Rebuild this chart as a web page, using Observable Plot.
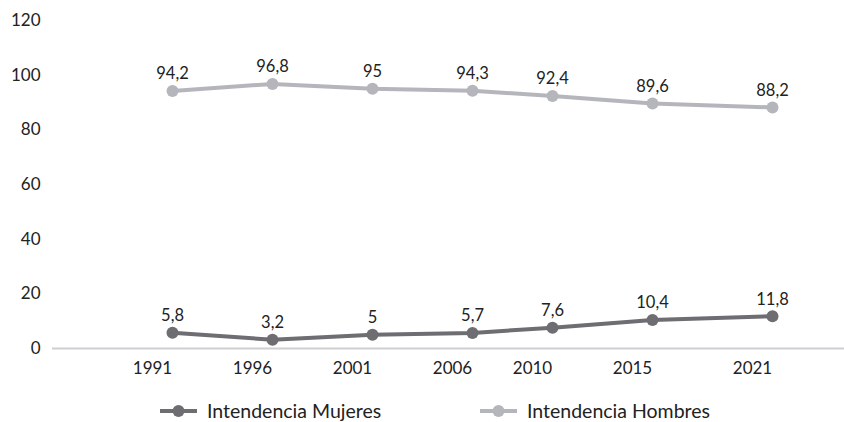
<!DOCTYPE html>
<html>
<head>
<meta charset="utf-8">
<script src="https://cdn.jsdelivr.net/npm/d3@7"></script>
<script src="https://cdn.jsdelivr.net/npm/@observablehq/plot@0.6"></script>
<style>
  html, body { margin: 0; padding: 0; background: #fff; }
  body { width: 844px; height: 422px; overflow: hidden; font-family: Lato, "Open Sans", sans-serif; }
  #legend { height: 32px; font-size: 19.5px; color: #222; position: relative; }
  .item { position: absolute; display: flex; align-items: center; top: 9px; }
  .item svg { margin-right: 10px; }
</style>
</head>
<body>
<div id="chart"></div>
<div id="legend"></div>
<script>
const years = [1991, 1996, 2001, 2006, 2010, 2015, 2021];
const mujeres = [5.8, 3.2, 5, 5.7, 7.6, 10.4, 11.8];
const hombres = [94.2, 96.8, 95, 94.3, 92.4, 89.6, 88.2];
const seriesNames = ["Intendencia Mujeres", "Intendencia Hombres"];
const seriesColors = ["#6d6d72", "#b5b5bc"];
const yTicks = [0, 20, 40, 60, 80, 100, 120];

const data = [];
years.forEach((y, i) => {
  data.push({year: y, value: mujeres[i], serie: seriesNames[0]});
  data.push({year: y, value: hombres[i], serie: seriesNames[1]});
});
const fmt = v => String(v).replace(".", ",");

const chart = Plot.plot({
  width: 844,
  height: 390,
  marginTop: 20,
  marginLeft: 52,
  marginRight: 0,
  marginBottom: 42,
  style: {fontFamily: "Lato, 'Open Sans', sans-serif", fontSize: "17px", color: "#222", background: "#fff"},
  x: {domain: [1985, 2024.6], label: null},
  y: {domain: [0, 120], label: null},
  color: {domain: seriesNames, range: seriesColors},
  marks: [
    Plot.axisY({ticks: yTicks, tickSize: 0, tickPadding: 12, fontSize: 17}),
    Plot.axisX({ticks: years, tickFormat: d => String(d), tickSize: 0, tickPadding: 13, dx: -20, fontSize: 17}),
    Plot.ruleY([0], {stroke: "#cfcfd3", strokeWidth: 2}),
    Plot.line(data, {x: "year", y: "value", z: "serie", stroke: "serie", strokeWidth: 4}),
    Plot.dot(data, {x: "year", y: "value", fill: "serie", r: 6}),
    Plot.text(data, {x: "year", y: "value", text: d => fmt(d.value), dy: -17, fontSize: 16.5, fill: "#222"})
  ]
});
document.getElementById("chart").appendChild(chart);

const legend = document.getElementById("legend");
const positions = [160, 480];
seriesNames.forEach((name, i) => {
  const item = document.createElement("div");
  item.className = "item";
  item.style.left = positions[i] + "px";
  item.innerHTML = `<svg width="37" height="14"><line x1="0" y1="7" x2="37" y2="7" stroke="${seriesColors[i]}" stroke-width="4"/><circle cx="18.5" cy="7" r="6" fill="${seriesColors[i]}"/></svg><span>${name}</span>`;
  legend.appendChild(item);
});
</script>
</body>
</html>
